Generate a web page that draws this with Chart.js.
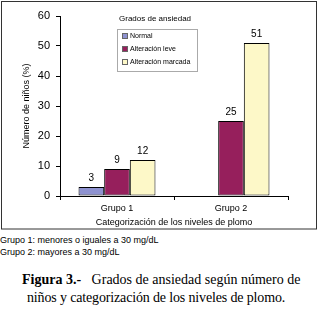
<!DOCTYPE html>
<html>
<head>
<meta charset="utf-8">
<script src="https://cdn.jsdelivr.net/npm/chart.js@4"></script>
<style>
  body { margin: 0; width: 320px; height: 313px; background: #fff; position: relative; overflow: hidden; font-family: "Liberation Sans", Arial, sans-serif; color: #000; }
  #grafico { position: absolute; left: 0; top: 0; }
  .nota { position: absolute; left: 0; font-size: 9px; line-height: 12px; white-space: nowrap; }
  .pie { position: absolute; font-family: "Liberation Serif", "Times New Roman", serif; font-size: 14px; line-height: 18px; white-space: nowrap; }
</style>
</head>
<body>
<canvas id="grafico" width="320" height="232"></canvas>
<div class="nota" style="top:234px">Grupo 1: menores o iguales a 30 mg/dL</div>
<div class="nota" style="top:246px">Grupo 2: mayores a 30 mg/dL</div>
<div class="pie" style="top:271px;left:22px"><b>Figura 3.-</b>&nbsp;&nbsp; Grados de ansiedad según número de</div>
<div class="pie" style="top:289px;left:27px;letter-spacing:-0.15px">niños y categorización de los niveles de plomo.</div>
<script>
// datos
const categorias = ["Grupo 1", "Grupo 2"];
const normal = [3, 0];
const leve = [9, 25];
const marcada = [12, 51];
const nombresSeries = ["Normal", "Alteración leve", "Alteración marcada"];
const tituloLeyenda = "Grados de ansiedad";

const colores = ["#8e92d0", "#961f5c", "#fdf8c8"];
const fuente = '"Liberation Sans", Arial, sans-serif';

// etiquetas de valor encima de cada barra
const etiquetas = {
  id: "etiquetas",
  afterDatasetsDraw(chart) {
    const ctx = chart.ctx;
    ctx.save();
    ctx.font = "10px " + fuente;
    ctx.fillStyle = "#000";
    ctx.textAlign = "center";
    ctx.textBaseline = "middle";
    chart.data.datasets.forEach((ds, i) => {
      chart.getDatasetMeta(i).data.forEach((bar, j) => {
        if (!ds.data[j]) return;
        ctx.fillText(ds.data[j], bar.x, bar.y - 9);
      });
    });
    ctx.restore();
  }
};

// leyenda dentro del área y marco exterior
const leyenda = {
  id: "leyenda",
  afterDraw(chart) {
    const ctx = chart.ctx;
    ctx.save();
    ctx.strokeStyle = "#333";
    ctx.lineWidth = 1;
    ctx.strokeRect(1.5, 1.5, 315, 227.5);

    ctx.fillStyle = "#000";
    ctx.textAlign = "left";
    ctx.textBaseline = "middle";
    ctx.font = "8px " + fuente;
    ctx.fillText(tituloLeyenda, 119, 19);

    ctx.strokeStyle = "#aaa";
    ctx.strokeRect(117.5, 29.5, 80, 42);
    ctx.font = "7px " + fuente;
    chart.data.datasets.forEach((ds, i) => {
      const y = 36 + i * 13;
      ctx.fillStyle = ds.backgroundColor;
      ctx.fillRect(122, y - 3, 6, 6);
      ctx.strokeStyle = "#666";
      ctx.strokeRect(122.5, y - 2.5, 5, 5);
      ctx.fillStyle = "#000";
      ctx.fillText(ds.label, 130, y);
    });
    ctx.restore();
  }
};

const series = [normal, leve, marcada];

new Chart(document.getElementById("grafico").getContext("2d"), {
  type: "bar",
  data: {
    labels: categorias,
    datasets: series.map((d, i) => ({
      label: nombresSeries[i],
      data: d,
      backgroundColor: colores[i],
      borderColor: "#000",
      borderWidth: 1,
      borderSkipped: false,
      categoryPercentage: 0.675,
      barPercentage: 1
    }))
  },
  options: {
    responsive: false,
    animation: false,
    layout: { padding: { left: 17, top: 16, right: 32, bottom: 0 } },
    plugins: {
      legend: { display: false },
      tooltip: { enabled: false }
    },
    scales: {
      x: {
        grid: { offset: true, drawOnChartArea: false, tickLength: 4, color: "#000" },
        border: { color: "#000" },
        ticks: { color: "#000", font: { family: fuente, size: 9 }, padding: 3 },
        title: {
          display: true,
          text: "Categorización de los niveles de plomo",
          color: "#000",
          font: { family: fuente, size: 9 },
          padding: { top: 2, bottom: 4 }
        },
        afterFit(s) { s.height = 36; }
      },
      y: {
        min: 0,
        max: 60,
        ticks: { stepSize: 10, color: "#000", font: { family: fuente, size: 11 }, padding: 6 },
        grid: { drawOnChartArea: false, tickLength: 4, color: "#000" },
        border: { color: "#000" },
        title: {
          display: true,
          text: "Número de niños (%)",
          color: "#000",
          font: { family: fuente, size: 9 },
          padding: { top: 4, bottom: 4 }
        },
        afterFit(s) { s.width = 43; }
      }
    }
  },
  plugins: [etiquetas, leyenda]
});
</script>
</body>
</html>
